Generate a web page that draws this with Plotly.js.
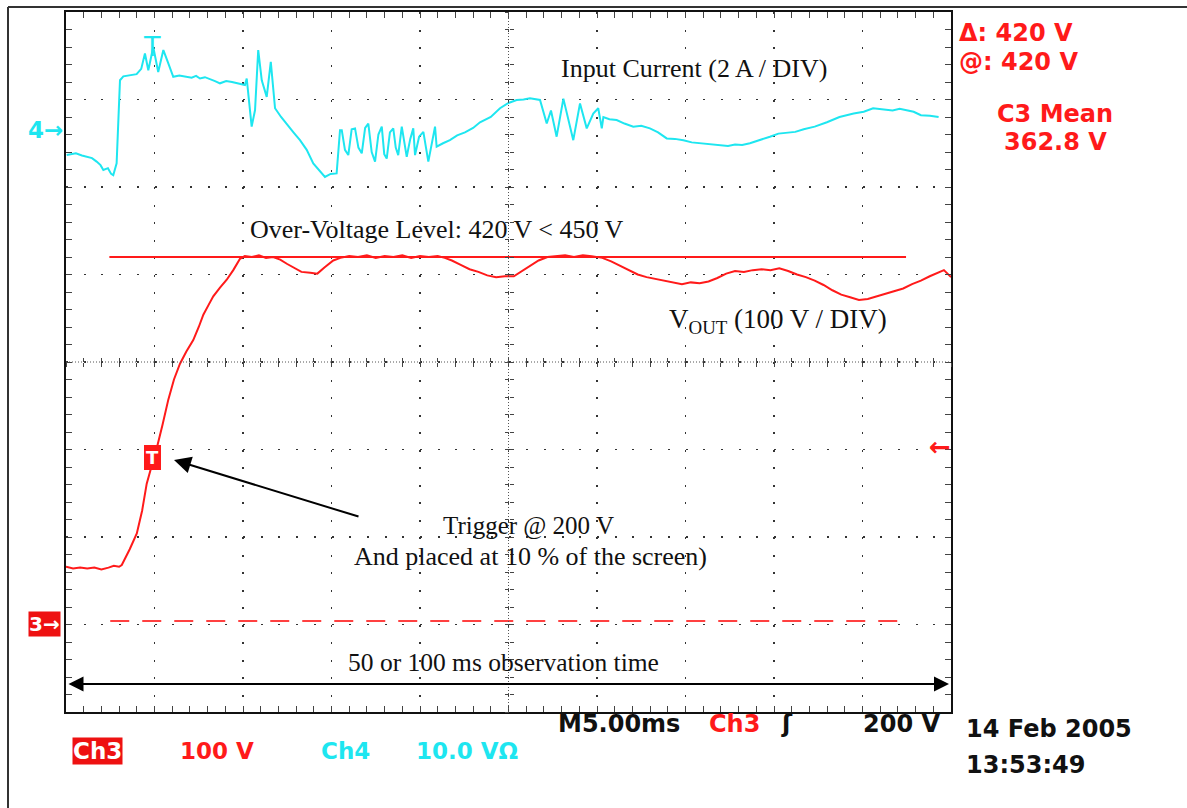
<!DOCTYPE html>
<html>
<head>
<meta charset="utf-8">
<script src="https://cdn.plot.ly/plotly-3.0.1.min.js"></script>
<style>
html,body{margin:0;padding:0;background:#fff;}
#chart{width:1187px;height:808px;}
</style>
</head>
<body>
<div id="chart"></div>
<script>
// ---- Data (time in ms, trigger at t = 0; Vout in V; input current in A) ----
const vOutTime = [-5.0,-4.6,-4.2,-3.8,-3.4,-3.0,-2.6,-2.3,-2.0,-1.85,-1.4,-1.0,-0.7,-0.44,-0.15,0.12,0.45,0.78,1.1,1.44,1.8,2.19,2.5,2.76,3.05,3.32,3.7,4.08,4.45,4.83,5.1,5.5,5.9,6.3,6.7,7.1,7.5,7.9,8.3,8.8,9.2,9.6,10.1,10.5,11.0,11.5,12.0,12.5,13.0,13.5,14.0,14.5,15.0,15.5,16.0,16.4,16.8,17.3,17.8,18.3,18.8,19.3,19.8,20.3,20.7,21.2,21.7,22.2,22.7,23.2,23.7,24.2,24.7,25.3,25.8,26.3,26.8,27.3,27.8,28.3,28.8,29.3,29.8,30.3,30.8,31.3,31.8,32.3,32.8,33.3,33.8,34.3,34.8,35.3,35.8,36.3,36.8,37.3,37.8,38.3,38.8,39.3,39.8,40.3,40.8,41.3,41.8,42.3,42.8,43.3,43.8,44.3,44.6,45.0];
const vOutVolts = [66,64,65,64,65,63,65,67,66,68,86,104,130,161,182,201,228,257,280,298,312,325,340,354,365,375,385,394,405,418,421,420,422,419,420,417,412,407,403,402,401,408,416,419,421,420,422,419,421,420,422,419,421,420,421,419,416,411,406,403,399,397,398,398,403,410,416,420,421,422,420,422,421,419,415,410,405,400,397,395,393,391,389,391,390,392,396,401,404,403,405,406,405,407,404,400,397,393,388,382,377,374,371,372,375,378,381,384,389,393,398,402,405,397];

const iInTime = [-4.96,-4.44,-4.10,-3.83,-3.53,-3.27,-3.05,-2.89,-2.63,-2.45,-2.33,-2.14,-1.95,-1.76,-1.38,-1.01,-0.75,-0.54,-0.35,-0.07,0.21,0.50,0.76,1.06,1.40,1.72,2.10,2.35,2.57,2.85,3.14,3.42,3.70,4.05,4.38,4.75,5.11,5.21,5.49,5.68,5.86,6.06,6.34,6.57,6.81,7.15,7.47,7.85,8.22,8.60,8.97,9.30,9.63,9.95,10.29,10.48,10.58,10.76,10.95,11.14,11.33,11.52,11.71,11.90,12.08,12.27,12.46,12.65,12.84,12.98,13.12,13.30,13.49,13.63,13.77,13.97,14.25,14.45,14.62,14.72,14.95,15.19,15.47,15.85,15.94,16.30,16.69,17.10,17.54,18.00,18.39,19.00,19.52,20.00,20.46,20.85,21.21,21.78,22.16,22.40,22.72,23.10,23.40,23.66,24.04,24.42,24.79,25.07,25.27,25.36,25.70,26.11,26.55,27.05,27.50,27.99,28.45,28.94,29.40,29.88,30.35,30.82,31.40,31.95,32.40,32.80,33.20,33.64,34.20,34.77,35.25,35.73,36.20,36.68,37.30,37.99,38.70,39.50,40.07,40.60,41.20,41.70,42.10,42.50,42.89,43.30,43.81,44.30,44.77];
const iInAmps = [-0.57,-0.53,-0.58,-0.61,-0.64,-0.72,-0.80,-0.91,-0.87,-1.00,-1.03,-0.76,1.14,1.23,1.26,1.28,1.40,1.75,1.37,1.90,1.33,1.83,1.55,1.22,1.25,1.23,1.20,1.24,1.18,1.21,1.17,1.12,1.07,1.12,1.10,1.06,1.03,1.18,0.08,0.46,1.83,1.14,0.76,1.56,0.50,0.30,0.15,-0.05,-0.23,-0.45,-0.76,-0.92,-1.07,-1.00,-0.99,0.00,0.00,-0.45,-0.57,0.02,0.04,-0.40,-0.53,0.05,0.15,-0.50,-0.72,-0.10,0.08,-0.55,-0.65,-0.05,0.04,-0.40,-0.57,0.08,-0.61,-0.20,0.04,-0.57,-0.15,-0.04,-0.72,0.08,-0.38,-0.30,-0.23,-0.12,-0.05,0.05,0.18,0.30,0.50,0.62,0.69,0.70,0.73,0.69,0.15,0.45,-0.15,0.72,0.20,-0.23,0.61,0.04,0.38,0.50,0.04,0.30,0.25,0.23,0.15,0.08,0.10,0.04,-0.05,-0.19,-0.20,-0.23,-0.28,-0.30,-0.33,-0.34,-0.36,-0.33,-0.34,-0.30,-0.23,-0.15,-0.08,-0.06,-0.04,0.02,0.08,0.18,0.30,0.38,0.42,0.50,0.48,0.45,0.49,0.46,0.42,0.34,0.33,0.30];

const overVoltTime = [-2.55, 42.46];
const overVoltLevel = [420, 420];
const groundTime = [-2.5, 42.5];
const groundLevel = [4, 4];

// ---- Layout helpers (pixel -> paper) ----
const PL = 66, PR = 951, PT = 12, PB = 712;
const W = 1187, H = 808;
const X = px => (px - PL) / (PR - PL);
const Y = py => (PB - py) / (PB - PT);

const RED = '#ff1a1a', CYAN = '#1ee6f0';
const serif = 'Liberation Serif, Times New Roman, serif';
const sans = 'DejaVu Sans, Liberation Sans, sans-serif';

const traces = [
  {x: groundTime, y: groundLevel, type:'scatter', mode:'lines', line:{color:'#ff4040', width:2, dash:'19px,13px'}, hoverinfo:'skip', showlegend:false},
  {x: overVoltTime, y: overVoltLevel, type:'scatter', mode:'lines', line:{color:RED, width:2}, hoverinfo:'skip', showlegend:false},
  {x: vOutTime, y: vOutVolts, type:'scatter', mode:'lines', line:{color:RED, width:2}, name:'Vout', showlegend:false},
  {x: iInTime, y: iInAmps, type:'scatter', mode:'lines', line:{color:CYAN, width:2}, yaxis:'y2', name:'Input Current', showlegend:false},
  {x: [], y: [], xaxis:'x2', yaxis:'y', showlegend:false, hoverinfo:'skip'},
  {x: [], y: [], xaxis:'x3', yaxis:'y', showlegend:false, hoverinfo:'skip'},
  {x: [], y: [], xaxis:'x', yaxis:'y3', showlegend:false, hoverinfo:'skip'},
  {x: [], y: [], xaxis:'x', yaxis:'y4', showlegend:false, hoverinfo:'skip'}
];

const xr = [-5, 45], yr = [-100, 700];
const centerX = {overlaying:'x', anchor:'free', position:0.5, range:xr, dtick:1, tick0:0, showticklabels:false, showgrid:false, zeroline:false, showline:false, ticklen:4, tickwidth:1, tickcolor:'#444', fixedrange:true};
const centerY = {overlaying:'y', anchor:'free', position:0.5, range:yr, dtick:20, tick0:0, showticklabels:false, showgrid:false, zeroline:false, showline:false, ticklen:4, tickwidth:1, tickcolor:'#444', fixedrange:true};

function txt(text, px, py, opts) {
  return Object.assign({text:text, x:X(px), y:Y(py), xref:'paper', yref:'paper', showarrow:false, xanchor:'center', yanchor:'middle'}, opts || {});
}
const scopeFont = (size, color) => ({family:sans, size:size, color:color, weight:'bold'});
const paperFont = size => ({family:serif, size:size, color:'#111'});

const annotations = [
  txt('Input Current (2 A / DIV)', 694, 69, {font:paperFont(26)}),
  txt('Over-Voltage Level: 420 V &lt; 450 V', 437, 229, {font:paperFont(26)}),
  txt('V<sub>OUT</sub> (100 V / DIV)', 667, 321, {xanchor:'left', font:paperFont(27)}),
  txt('Trigger @ 200 V', 528, 526, {font:paperFont(25)}),
  txt('And placed at 10 % of the screen)', 530, 556, {font:paperFont(26)}),
  txt('50 or 100 ms observation time', 503, 662, {font:paperFont(25.5)}),
  // arrow pointing at trigger marker
  {x:X(174), y:Y(460), xref:'paper', yref:'paper', ax:186, ay:57, axref:'pixel', ayref:'pixel', text:'', showarrow:true, arrowhead:2, arrowsize:1.7, arrowwidth:2, arrowcolor:'#000'},
  // double arrow observation time
  {x:X(949), y:Y(684), xref:'paper', yref:'paper', ax:-882, ay:0, text:'', showarrow:true, arrowhead:2, startarrowhead:2, arrowside:'end+start', arrowsize:1.5, startarrowsize:1.5, arrowwidth:2, arrowcolor:'#000'},
  // trigger markers
  txt('T', 152, 457, {font:{family:sans, size:18, color:'#fff', weight:'bold'}, bgcolor:RED, bordercolor:RED, borderpad:1}),
  txt('T', 152, 46, {font:{family:sans, size:27, color:CYAN}}),
  txt('4→', 45, 130, {font:scopeFont(23, CYAN)}),
  txt('3→', 44, 624, {font:{family:sans, size:20, color:'#fff', weight:'bold'}, bgcolor:'#ee1111', borderpad:0}),
  txt('←', 940, 447, {font:{family:sans, size:26, color:RED, weight:'bold'}}),
  // right panel
  txt('Δ: 420 V', 957, 33, {xanchor:'left', font:scopeFont(24, RED)}),
  txt('@: 420 V', 957, 62, {xanchor:'left', font:scopeFont(24, RED)}),
  txt('C3 Mean', 1055, 114, {font:scopeFont(24, RED)}),
  txt('362.8 V', 1055, 142, {font:scopeFont(24, RED)}),
  // bottom status
  txt('M5.00ms', 556, 724, {xanchor:'left', font:scopeFont(24, '#111')}),
  txt('Ch3', 707, 724, {xanchor:'left', font:scopeFont(24, RED)}),
  txt('ʃ', 787, 724, {font:{family:sans, size:24, color:'#111', weight:'bold'}}),
  txt('200 V', 942, 724, {xanchor:'right', font:scopeFont(24, '#111')}),
  txt('14 Feb 2005', 964, 729, {xanchor:'left', font:scopeFont(24, '#111')}),
  txt('13:53:49', 964, 765, {xanchor:'left', font:scopeFont(24, '#111')}),
  txt('Ch3', 72, 751, {xanchor:'left', font:scopeFont(23, '#fff'), bgcolor:'#ee1111', borderpad:0}),
  txt('100 V', 178, 751, {xanchor:'left', font:scopeFont(23, RED)}),
  txt('Ch4', 319, 751, {xanchor:'left', font:scopeFont(23, CYAN)}),
  txt('10.0 VΩ', 414, 751, {xanchor:'left', font:scopeFont(23, CYAN)})
];

const shapes = [
  // outer frame
  {type:'line', xref:'paper', yref:'paper', x0:X(8), x1:X(8), y0:Y(830), y1:Y(7), line:{color:'#333', width:2}},
  {type:'line', xref:'paper', yref:'paper', x0:X(8), x1:X(1200), y0:Y(7), y1:Y(7), line:{color:'#333', width:2}},
  // dense centre cross lines
  {type:'line', xref:'paper', yref:'paper', x0:0.5, x1:0.5, y0:0, y1:1, line:{color:'#555', width:1, dash:'1px,2px'}},
  {type:'line', xref:'paper', yref:'paper', x0:0, x1:1, y0:0.5, y1:0.5, line:{color:'#555', width:1, dash:'1px,2px'}}
];

const layout = {
  width:W, height:H,
  margin:{l:PL, r:W-PR, t:PT, b:H-PB, pad:0},
  paper_bgcolor:'#fff', plot_bgcolor:'#fff',
  showlegend:false,
  xaxis:{range:xr, dtick:5, tick0:0, showticklabels:false, ticks:'inside', ticklen:6, tickcolor:'#444', tickwidth:1,
         minor:{dtick:1, ticks:'inside', ticklen:4, tickcolor:'#444', showgrid:false},
         showgrid:true, gridcolor:'#333', gridwidth:1.6, griddash:'2px,15.5px',
         zeroline:false, showline:true, linecolor:'#111', linewidth:2, mirror:'allticks', fixedrange:true},
  yaxis:{range:yr, dtick:100, tick0:0, showticklabels:false, ticks:'inside', ticklen:6, tickcolor:'#444', tickwidth:1,
         minor:{dtick:20, ticks:'inside', ticklen:4, tickcolor:'#444', showgrid:false},
         showgrid:true, gridcolor:'#333', gridwidth:1.6, griddash:'2px,15.7px',
         zeroline:false, showline:true, linecolor:'#111', linewidth:2, mirror:'allticks', fixedrange:true},
  yaxis2:{overlaying:'y', side:'right', range:[-13.3, 2.7], showticklabels:false, showgrid:false, zeroline:false, showline:false, ticks:'', fixedrange:true},
  xaxis2:Object.assign({}, centerX, {ticks:'inside'}),
  xaxis3:Object.assign({}, centerX, {ticks:'outside'}),
  yaxis3:Object.assign({}, centerY, {ticks:'inside'}),
  yaxis4:Object.assign({}, centerY, {ticks:'outside'}),
  annotations:annotations,
  shapes:shapes
};

Plotly.newPlot('chart', traces, layout, {displayModeBar:false, staticPlot:true});
</script>
</body>
</html>
